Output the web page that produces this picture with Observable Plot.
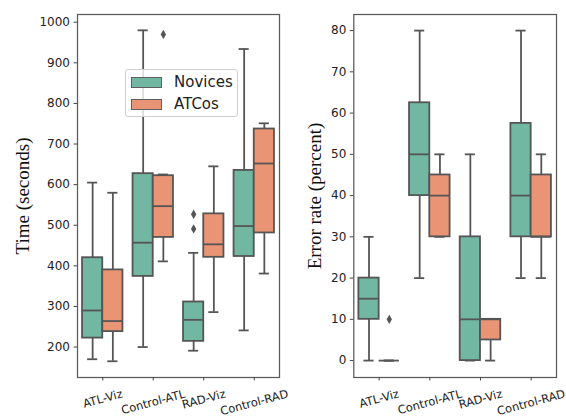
<!DOCTYPE html>
<html><head><meta charset="utf-8">
<script src="https://cdn.jsdelivr.net/npm/d3@7"></script>
<script src="https://cdn.jsdelivr.net/npm/@observablehq/plot@0.6"></script>
<style>
body{margin:0;background:#fff;}
#wrap{position:relative;width:566px;height:419px;overflow:hidden;font-family:"DejaVu Sans",sans-serif;}
#wrap svg{position:absolute;top:0;overflow:visible !important;}
.legend{position:absolute;left:125px;top:69px;width:113px;height:48px;box-sizing:border-box;border:1px solid #d0d0d0;border-radius:3px;background:rgba(255,255,255,0.8);}
.legend .row{position:absolute;left:5px;height:12px;display:flex;align-items:center;}
.legend .sw{width:31px;height:11px;border:1px solid #606060;box-sizing:border-box;}
.legend .lab{position:absolute;left:43px;font-size:15px;color:#222;white-space:nowrap;line-height:12px;}
</style></head><body><div id="wrap"></div>
<script>
// ---- data ----
const categories = ["ATL-Viz", "Control-ATL", "RAD-Viz", "Control-RAD"];
const groups = ["Novices", "ATCos"];
const groupColors = ["#71b7a1", "#e99575"];
// five-number summaries per category: [lower whisker, Q1, median, Q3, upper whisker]
const timeNovices = [[170,222,290,420,605],[200,374,457,627,980],[191,214,267,311,432],[241,423,498,635,934]];
const timeATCos   = [[165,238,264,390,580],[411,470,547,622,625],[286,421,453,528,645],[381,481,652,737,751]];
const timeOutliers = [["Control-ATL","ATCos",970],["RAD-Viz","Novices",527],["RAD-Viz","Novices",491]];
const errorNovices = [[0,10,15,20,30],[20,40,50,62.5,80],[0,0,10,30,50],[20,30,40,57.5,80]];
const errorATCos   = [[0,0,0,0,0],[30,30,40,45,50],[0,5,10,10,10],[20,30,30,45,50]];
const errorOutliers = [["ATL-Viz","ATCos",10]];
const timeTicks = [200,300,400,500,600,700,800,900,1000];
const errorTicks = [0,10,20,30,40,50,60,70,80];
const timeLabel = "Time (seconds)";
const errorLabel = "Error rate (percent)";

// ---- build tables ----
function summaryRows(nov, atc) {
  const out = [];
  [nov, atc].forEach((arr, g) => arr.forEach((s, i) => out.push({
    cat: categories[i], group: groups[g], i, g,
    low: s[0], q1: s[1], med: s[2], q3: s[3], high: s[4]
  })));
  return out;
}
function outlierRows(list) {
  return list.map(([cat, group, value]) => ({cat, group, value, i: categories.indexOf(cat), g: groups.indexOf(group)}));
}
const xc = d => d.i + (d.g - 0.5) * 0.4;   // dodge within category (box width 0.4)

const thinDiamond = {
  draw(ctx, size) {
    const s = Math.sqrt(size / Math.PI);
    const hh = s * 1.3, hw = s * 0.75;
    ctx.moveTo(0, -hh); ctx.lineTo(hw, 0); ctx.lineTo(0, hh); ctx.lineTo(-hw, 0); ctx.closePath();
  }
};

const FS = 11.5, ROT = 15;
const canvas = document.createElement("canvas").getContext("2d");
canvas.font = FS + "px 'DejaVu Sans'";
const ang = ROT * Math.PI / 180;

function panel({data, outliers, yDomain, yTicks, yLabel, marginLeft, marginRight, labelDx}) {
  const line = "#555", lw = 1.8;
  const tickLabels = categories.map((c, i) => {
    const L = canvas.measureText(c).width, h = FS * 0.75;
    const H = L * Math.sin(ang) + h * Math.cos(ang);
    return Plot.text([c], {x: () => i, text: d => d, frameAnchor: "bottom", dy: 12 + H / 2,
      rotate: -ROT, fontSize: FS, textAnchor: "middle", lineAnchor: "middle", fill: "#222"});
  });
  return Plot.plot({
    width: 283, height: 419,
    marginLeft, marginRight, marginTop: 14, marginBottom: 42,
    style: {fontFamily: "'DejaVu Sans', sans-serif", background: "transparent", overflow: "visible"},
    x: {type: "linear", domain: [-0.5, 3.5], axis: null},
    y: {domain: yDomain, axis: null},
    color: {domain: groups, range: groupColors},
    marks: [
      Plot.ruleX(data, {x: xc, y1: "low", y2: "q1", stroke: line, strokeWidth: lw}),
      Plot.ruleX(data, {x: xc, y1: "q3", y2: "high", stroke: line, strokeWidth: lw}),
      Plot.ruleY(data, {y: "low", x1: d => xc(d) - 0.1, x2: d => xc(d) + 0.1, stroke: line, strokeWidth: lw}),
      Plot.ruleY(data, {y: "high", x1: d => xc(d) - 0.1, x2: d => xc(d) + 0.1, stroke: line, strokeWidth: lw}),
      Plot.rect(data, {x1: d => xc(d) - 0.2, x2: d => xc(d) + 0.2, y1: "q1", y2: "q3", fill: "group", stroke: line, strokeWidth: lw}),
      Plot.ruleY(data, {y: "med", x1: d => xc(d) - 0.2, x2: d => xc(d) + 0.2, stroke: line, strokeWidth: lw}),
      Plot.dot(outliers, {x: xc, y: "value", symbol: thinDiamond, r: 3.6, fill: line, stroke: "none"}),
      Plot.frame({stroke: "#5a5a5a", strokeWidth: 1.25}),
      Plot.axisY({ticks: yTicks, tickFormat: d => String(d), tickSize: 3.5, tickPadding: 4, fontSize: 12, label: null, stroke: "#444", fill: "#222"}),
      Plot.axisX({ticks: [0, 1, 2, 3], tickFormat: () => "", tickSize: 3.5, label: null, stroke: "#444"}),
      ...tickLabels,
      Plot.text([yLabel], {frameAnchor: "left", text: d => d, rotate: -90, dx: labelDx,
        fontFamily: "'Liberation Serif', 'Times New Roman', serif", fontSize: 19, fill: "#111",
        textAnchor: "middle", lineAnchor: "middle"})
    ]
  });
}

const wrap = document.getElementById("wrap");
const left = panel({data: summaryRows(timeNovices, timeATCos), outliers: outlierRows(timeOutliers),
  yDomain: [125, 1019], yTicks: timeTicks, yLabel: timeLabel, marginLeft: 77, marginRight: 4, labelDx: -55});
left.style.left = "0px";
const right = panel({data: summaryRows(errorNovices, errorATCos), outliers: outlierRows(errorOutliers),
  yDomain: [-4.1, 83.9], yTicks: errorTicks, yLabel: errorLabel, marginLeft: 70.3, marginRight: 10, labelDx: -38.5});
right.style.left = "283px";
wrap.appendChild(right);
wrap.appendChild(left);

// legend (HTML, drawn over the left panel)
const legend = document.createElement("div");
legend.className = "legend";
groups.forEach((g, k) => {
  const row = document.createElement("div");
  row.className = "row";
  row.style.top = (6 + k * 22) + "px";
  const sw = document.createElement("div");
  sw.className = "sw"; sw.style.background = groupColors[k];
  const lab = document.createElement("div");
  lab.className = "lab"; lab.textContent = g;
  row.appendChild(sw); row.appendChild(lab);
  legend.appendChild(row);
});
wrap.appendChild(legend);
</script></body></html>
